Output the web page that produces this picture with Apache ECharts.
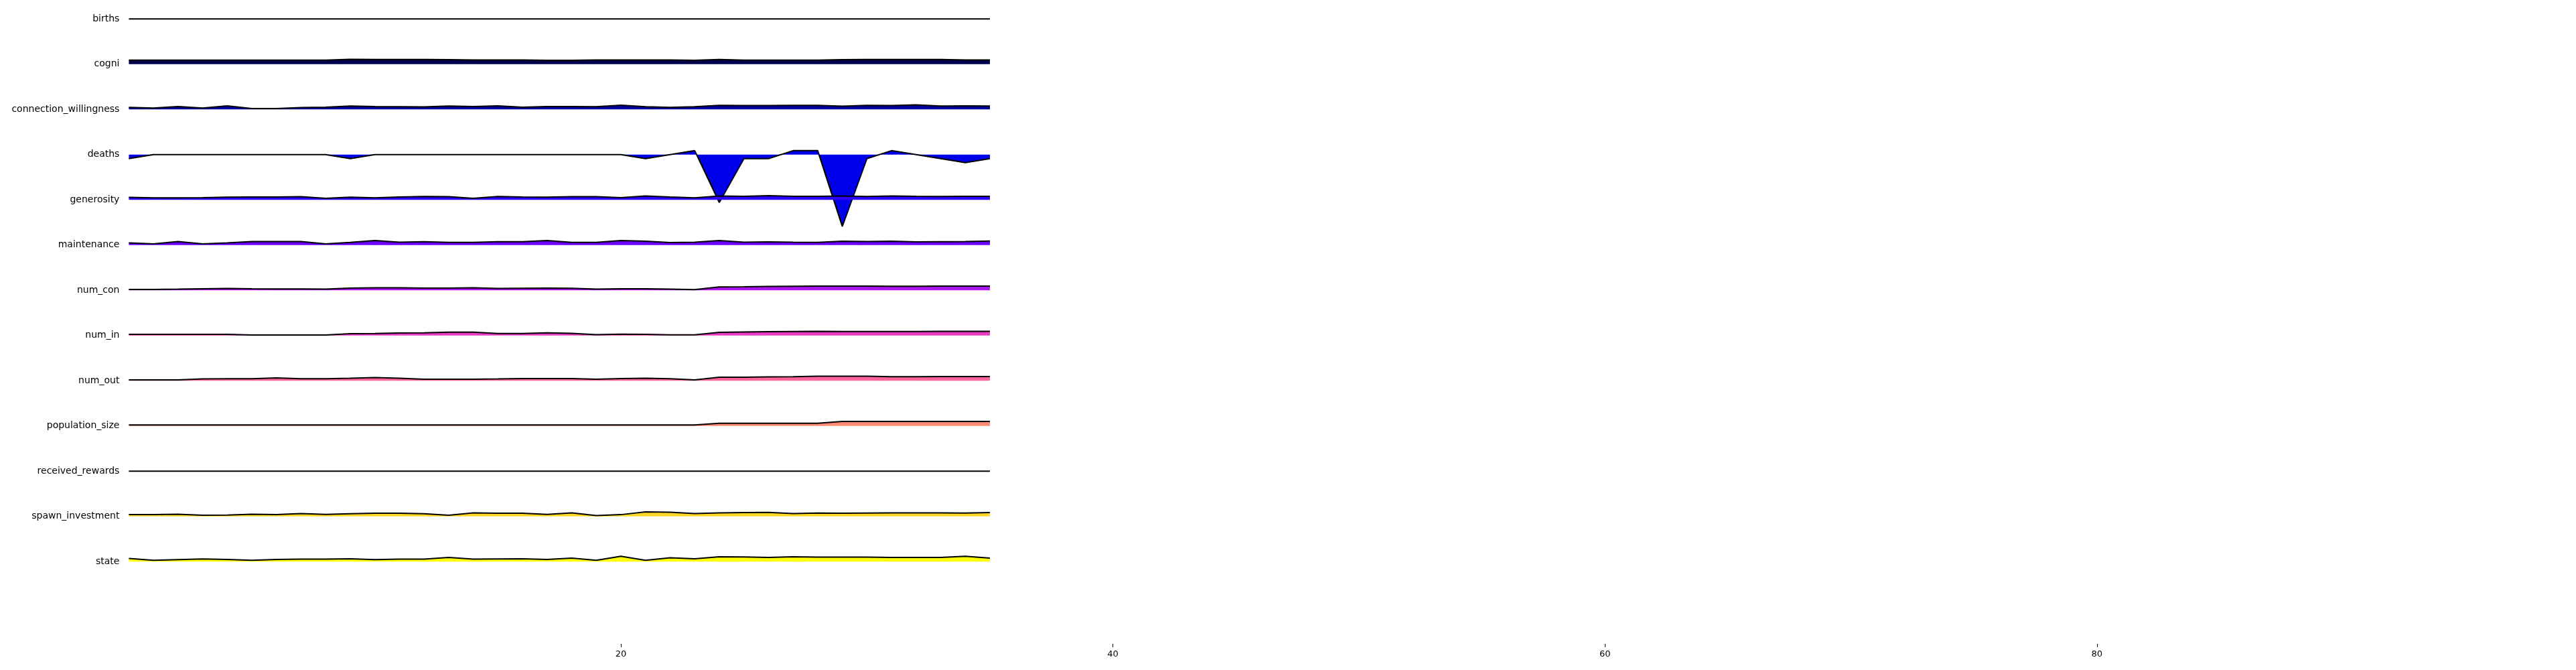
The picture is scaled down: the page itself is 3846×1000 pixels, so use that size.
<!DOCTYPE html>
<html>
<head>
<meta charset="utf-8">
<script src="https://cdn.jsdelivr.net/npm/echarts@6/dist/echarts.min.js"></script>
<style>
  html, body { margin: 0; padding: 0; background: #ffffff; }
  #chart { width: 3846px; height: 1000px; }
</style>
</head>
<body>
<div id="chart"></div>
<script>
// ---------------- data ----------------
const xSteps = [0,1,2,3,4,5,6,7,8,9,10,11,12,13,14,15,16,17,18,19,20,21,22,23,24,25,26,27,28,29,30,31,32,33,34,35];
const xTickValues = [20, 40, 60, 80];

const rowNames = ['births','cogni','connection_willingness','deaths','generosity','maintenance',
  'num_con','num_in','num_out','population_size','received_rewards','spawn_investment','state'];

const births = [0,0,0,0,0,0,0,0,0,0,0,0,0,0,0,0,0,0,0,0,0,0,0,0,0,0,0,0,0,0,0,0,0,0,0,0];
const cogni = [1.01,1.01,1.01,1.01,1.01,1.01,1.01,1.01,1.01,1.23,1.18,1.18,1.18,1.13,1.06,1.06,1.06,0.96,0.96,1.06,1.06,1.06,1.06,0.97,1.18,1.01,1.01,1.01,1.01,1.14,1.18,1.18,1.18,1.18,1.06,1.06];
const connectionWillingness = [0.50,0.34,0.72,0.34,0.89,0.22,0.22,0.45,0.55,0.84,0.72,0.67,0.62,0.84,0.72,0.89,0.55,0.72,0.72,0.67,1.06,0.67,0.50,0.67,1.01,0.96,0.96,1.01,1.01,0.79,1.01,0.96,1.13,0.84,0.89,0.84];
const deaths = [-1,0,0,0,0,0,0,0,0,-1,0,0,0,0,0,0,0,0,0,0,0,-1,0,1,-12,-1,-1,1,1,-18,-1,1,0,-1,-2,-1];
const generosity = [0.62,0.50,0.50,0.55,0.67,0.72,0.72,0.79,0.39,0.67,0.50,0.72,0.84,0.79,0.39,0.84,0.72,0.67,0.79,0.79,0.55,0.96,0.72,0.50,0.96,0.89,1.06,0.89,0.89,0.96,0.84,0.96,0.89,0.84,0.89,0.89];
const maintenance = [0.55,0.29,0.89,0.29,0.55,0.89,0.89,0.89,0.29,0.67,1.13,0.72,0.84,0.67,0.67,0.84,0.84,1.13,0.67,0.67,1.13,0.96,0.62,0.72,1.13,0.72,0.79,0.72,0.67,0.96,0.89,0.96,0.79,0.84,0.89,1.01];
const numCon = [0.22,0.22,0.29,0.39,0.45,0.39,0.34,0.34,0.29,0.55,0.62,0.62,0.55,0.55,0.62,0.45,0.50,0.55,0.50,0.29,0.39,0.39,0.29,0.17,0.84,0.89,0.96,1.01,1.06,1.06,1.06,1.01,1.01,1.06,1.06,1.06];
const numIn = [0.29,0.29,0.29,0.29,0.29,0.12,0.12,0.12,0.12,0.45,0.50,0.62,0.67,0.84,0.84,0.50,0.50,0.67,0.55,0.22,0.34,0.29,0.17,0.17,0.79,0.89,0.96,1.01,1.06,1.01,1.01,1.01,1.01,1.06,1.06,1.06];
const numOut = [0.22,0.22,0.22,0.45,0.50,0.50,0.72,0.50,0.50,0.62,0.79,0.62,0.39,0.39,0.39,0.45,0.55,0.55,0.55,0.39,0.55,0.62,0.50,0.22,0.89,0.89,0.96,1.01,1.13,1.13,1.13,1.01,1.01,1.06,1.06,1.06];
const populationSize = [0.25,0.25,0.25,0.25,0.25,0.25,0.25,0.25,0.25,0.25,0.25,0.25,0.25,0.25,0.25,0.25,0.25,0.25,0.25,0.25,0.25,0.25,0.25,0.25,0.67,0.67,0.67,0.67,0.67,1.13,1.13,1.13,1.13,1.13,1.13,1.13];
const receivedRewards = [0,0,0,0,0,0,0,0,0,0,0,0,0,0,0,0,0,0,0,0,0,0,0,0,0,0,0,0,0,0,0,0,0,0,0,0];
const spawnInvestment = [0.45,0.45,0.55,0.29,0.34,0.55,0.45,0.72,0.50,0.67,0.79,0.79,0.67,0.29,0.89,0.79,0.79,0.50,0.89,0.22,0.45,1.13,1.06,0.72,0.89,0.96,1.01,0.72,0.84,0.79,0.84,0.89,0.89,0.89,0.84,0.96];
const state = [0.79,0.34,0.50,0.67,0.55,0.34,0.55,0.62,0.62,0.72,0.50,0.62,0.62,1.06,0.62,0.67,0.72,0.55,0.89,0.34,1.34,0.34,0.96,0.72,1.23,1.18,1.06,1.23,1.13,1.13,1.13,1.06,1.06,1.06,1.34,0.89];

const rowValues = [births, cogni, connectionWillingness, deaths, generosity, maintenance,
  numCon, numIn, numOut, populationSize, receivedRewards, spawnInvestment, state];

// ---------------- styling / layout ----------------
const rowColors = ['#000000','#00004E','#00009D','#0000EB','#2E00FF','#6B00FF',
  '#A915EA','#E63CC3','#FF649C','#FF8B74','#FFB24D','#FFD926','#FFFF0A'];

const FONT = 'DejaVu Sans';
const PLOT_LEFT = 192.4;
const X_MIN = 0, X_MAX = 100;
const PX_PER_X = 36.73;
const PLOT_WIDTH = (X_MAX - X_MIN) * PX_PER_X;
const FIRST_BASELINE = 28.3;
const ROW_GAP = 67.5;
const UNIT_PX = 5.95;
const Y_MIN = -2, Y_MAX = 8;
const AXIS_BOTTOM = 961;

const grids = [], xAxes = [], yAxes = [], series = [];

rowNames.forEach((name, k) => {
  const baseline = FIRST_BASELINE + k * ROW_GAP;
  grids.push({
    left: PLOT_LEFT, width: PLOT_WIDTH,
    top: baseline - Y_MAX * UNIT_PX,
    height: (Y_MAX - Y_MIN) * UNIT_PX,
    outerBoundsMode: 'none', containLabel: false
  });
  xAxes.push({
    type: 'value', gridIndex: k, min: X_MIN, max: X_MAX, show: false
  });
  yAxes.push({
    type: 'value', gridIndex: k, min: Y_MIN, max: Y_MAX, interval: 1,
    axisLine: { show: false }, axisTick: { show: false }, splitLine: { show: false },
    axisLabel: {
      show: true, margin: 14, color: '#000000', fontFamily: FONT, fontSize: 14,
      showMinLabel: true, showMaxLabel: true,
      formatter: (v) => (Math.abs(v) < 1e-9 ? name : '')
    }
  });
  series.push({
    type: 'line', name: name, xAxisIndex: k, yAxisIndex: k,
    data: xSteps.map((x, i) => [x, rowValues[k][i]]),
    showSymbol: false, symbol: 'none', clip: false, smooth: false,
    z: 2 + k,
    lineStyle: { color: '#000000', width: 2 },
    areaStyle: { color: rowColors[k], opacity: 1, origin: 'auto' },
    emphasis: { disabled: true },
    silent: true
  });
});

// axis that carries the bottom ticks
const tickGrid = rowNames.length;
grids.push({ left: PLOT_LEFT, width: PLOT_WIDTH, top: 10, height: AXIS_BOTTOM - 10,
  outerBoundsMode: 'none', containLabel: false });
xAxes.push({
  type: 'value', gridIndex: tickGrid, min: X_MIN, max: X_MAX, interval: 20,
  axisLine: { show: false }, splitLine: { show: false },
  axisTick: { show: true, length: 5, lineStyle: { color: '#000000', width: 1 }, customValues: xTickValues },
  axisLabel: { show: true, margin: 9, color: '#000000', fontFamily: FONT, fontSize: 13,
    customValues: xTickValues,
    formatter: (v) => (xTickValues.indexOf(v) >= 0 ? String(v) : '') }
});
yAxes.push({ type: 'value', gridIndex: tickGrid, show: false, min: 0, max: 1 });

const chart = echarts.init(document.getElementById('chart'), null, { renderer: 'canvas' });
chart.setOption({
  backgroundColor: '#ffffff',
  animation: false,
  grid: grids,
  xAxis: xAxes,
  yAxis: yAxes,
  series: series
});
</script>
</body>
</html>
